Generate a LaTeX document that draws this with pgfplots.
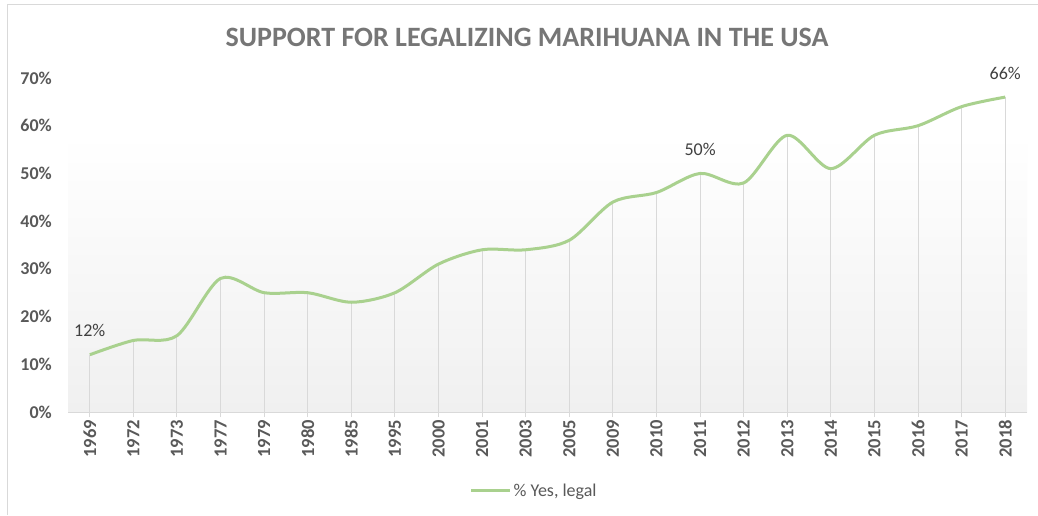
\documentclass[border=0pt]{standalone}
\usepackage{fontspec}
\setmainfont{Carlito}
\usepackage{pgfplots}
\pgfplotsset{compat=1.18}
\definecolor{lgreen}{HTML}{A9D18E}
\definecolor{tickgray}{HTML}{595959}
\definecolor{titlegray}{HTML}{767676}
\definecolor{labgray}{HTML}{404040}
\definecolor{linegray}{HTML}{D9D9D9}
\definecolor{bggray}{HTML}{F0F0F0}
\begin{document}
\begin{tikzpicture}[x=1pt,y=1pt]
\useasboundingbox (0,0) rectangle (1038,515);
\fill[white] (0,0) rectangle (1038,515);
\draw[linegray, line width=1pt] (7,0) -- (7,510) -- (1038,510);
\node[font=\fontsize{28}{32}\selectfont\bfseries, text=titlegray] at (527,478) {SUPPORT FOR LEGALIZING MARIHUANA IN THE USA};
\begin{axis}[
  at={(68pt,103pt)}, anchor=south west,
  width=959pt, height=334pt, scale only axis,
  xmin=-0.5, xmax=21.5, ymin=0, ymax=70,
  axis x line*=bottom, axis y line*=left,
  y axis line style={draw=none},
  x axis line style={linegray, line width=1pt, -},
  xtick={0,...,21},
  xticklabels={1969,1972,1973,1977,1979,1980,1985,1995,2000,2001,2003,2005,2009,2010,2011,2012,2013,2014,2015,2016,2017,2018},
  x tick label style={rotate=90, anchor=east, font=\fontsize{18.5}{20}\selectfont\bfseries, text=tickgray, inner sep=0pt, outer sep=3pt},
  xtick style={linegray, line width=1pt},
  tick align=outside, major tick length=5pt,
  ytick={0,10,...,70},
  ytick style={draw=none},
  yticklabel={\pgfmathprintnumber{\tick}\%},
  y tick label style={font=\fontsize{18}{20}\selectfont\bfseries, text=tickgray, inner sep=0pt, xshift=-11pt},
  /pgf/number format/assume math mode=true,
  axis on top,
  clip=false,
  legend style={at={(0.486,-0.2365)}, anchor=center, draw=none, fill=none, font=\fontsize{18}{20}\selectfont, text=tickgray},
  legend image code/.code={\draw[#1, line width=3pt] (0pt,0pt) -- (39pt,0pt);},
]
\fill[top color=white, bottom color=bggray] (axis cs:-0.5,0) rectangle (axis cs:21.5,58.1);
\addplot[ycomb, linegray, line width=1pt, forget plot] coordinates {
(0,12)(1,15)(2,16)(3,28)(4,25)(5,25)(6,23)(7,25)(8,31)(9,34)(10,34)(11,36)(12,44)(13,46)(14,50)(15,48)(16,58)(17,51)(18,58)(19,60)(20,64)(21,66)};
\addplot[lgreen, line width=3pt, smooth, tension=0.5, mark=none] coordinates {
(0,12)(1,15)(2,16)(3,28)(4,25)(5,25)(6,23)(7,25)(8,31)(9,34)(10,34)(11,36)(12,44)(13,46)(14,50)(15,48)(16,58)(17,51)(18,58)(19,60)(20,64)(21,66)};
\addlegendentry{\% Yes, legal}
\addplot[draw=none, mark=none, forget plot, point meta=y,
  nodes near coords={\pgfmathprintnumber{\pgfplotspointmeta}\%},
  every node near coord/.append style={anchor=center, yshift=24pt, font=\fontsize{18}{20}\selectfont, text=labgray}]
  coordinates {(0,12)(14,50)(21,66)};
\end{axis}
\end{tikzpicture}
\end{document}
